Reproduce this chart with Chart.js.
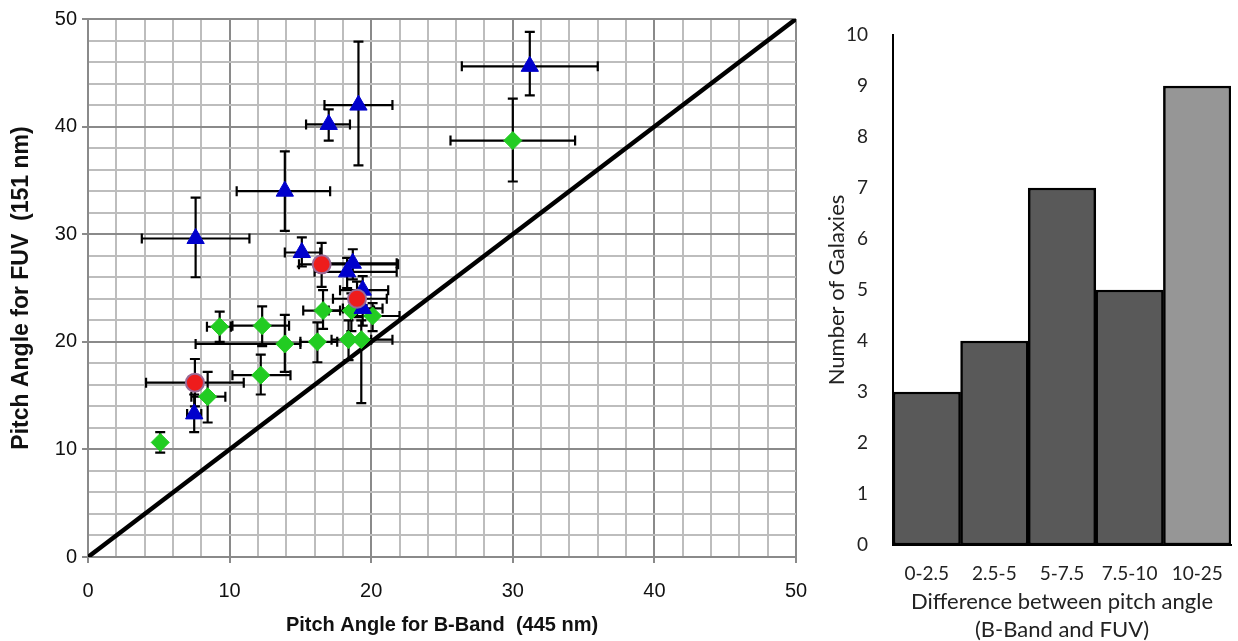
<!DOCTYPE html>
<html>
<head>
<meta charset="utf-8">
<script src="https://cdn.jsdelivr.net/npm/chart.js@4.4.1/dist/chart.umd.min.js"></script>
<style>
  html, body { margin: 0; padding: 0; background: #fff; }
  #scatterChart { position: absolute; left: 0; top: 0; }
  #barChart { position: absolute; left: 820px; top: 0; }
</style>
</head>
<body>
<canvas id="scatterChart" width="830" height="641"></canvas>
<canvas id="barChart" width="418" height="641"></canvas>
<script>
// blue triangles
var blueX   = [31.2, 19.1, 17.0, 13.9, 7.6, 15.1, 18.7, 18.3, 19.4, 19.4, 7.5];
var blueY   = [45.6, 42.0, 40.2, 34.0, 29.6, 28.3, 27.3, 26.5, 24.8, 23.1, 13.3];
var blueXLo = [26.4, 16.7, 15.4, 10.5, 3.8, 13.9, 16.5, 16.0, 17.8, 18.0, 7.0];
var blueXHi = [36.0, 21.5, 18.5, 17.1, 11.4, 16.4, 21.8, 21.8, 21.2, 20.8, 8.0];
var blueYLo = [42.9, 36.4, 38.7, 30.3, 26.0, 27.0, 25.8, 25.0, 23.4, 21.5, 11.6];
var blueYHi = [48.8, 47.9, 41.6, 37.7, 33.4, 29.7, 28.6, 27.8, 26.1, 24.6, 15.1];

// red circles
var redX   = [16.5, 19.0, 7.55];
var redY   = [27.2, 24.0, 16.2];
var redXLo = [14.9, 17.3, 4.1];
var redXHi = [21.9, 21.1, 11.0];
var redYLo = [25.1, 22.3, 14.0];
var redYHi = [29.2, 25.6, 18.4];

// green diamonds
var greenX   = [30.0, 16.6, 18.6, 20.1, 9.3, 12.3, 13.9, 16.2, 18.4, 19.3, 12.2, 8.45, 5.1];
var greenY   = [38.7, 22.9, 22.9, 22.4, 21.4, 21.5, 19.8, 20.0, 20.2, 20.2, 16.9, 14.9, 10.65];
var greenXLo = [25.6, 15.2, 17.0, 18.6, 8.4, 10.2, 7.6, 15.0, 17.2, 18.3, 10.2, 7.3, 4.9];
var greenXHi = [34.4, 17.8, 20.2, 22.0, 10.1, 14.2, 15.0, 17.6, 20.0, 21.5, 14.3, 9.7, 5.3];
var greenYLo = [34.9, 21.2, 21.0, 21.0, 20.0, 19.6, 17.2, 18.1, 18.3, 14.3, 15.1, 12.5, 9.7];
var greenYHi = [42.6, 24.8, 24.5, 23.6, 22.8, 23.3, 22.5, 21.8, 22.0, 22.0, 18.8, 17.2, 11.6];

// 1:1 line
var lineX = [0, 50];
var lineY = [0, 50];

// histogram
var binLabels = ['0-2.5', '2.5-5', '5-7.5', '7.5-10', '10-25'];
var binCounts = [3, 4, 7, 5, 9];

function points(xs, ys) {
  return xs.map(function (x, i) { return { x: x, y: ys[i] }; });
}
function errs(xl, xh, yl, yh) {
  return xl.map(function (v, i) { return { xLo: v, xHi: xh[i], yLo: yl[i], yHi: yh[i] }; });
}

var sans = "'Liberation Sans', Arial, sans-serif";

var errorBars = {
  id: 'errorBars',
  beforeDatasetsDraw: function (chart) {
    var xs = chart.scales.x, ys = chart.scales.y, ctx = chart.ctx, cap = 5;
    ctx.save();
    ctx.strokeStyle = '#000';
    ctx.lineWidth = 2.2;
    chart.data.datasets.forEach(function (ds) {
      if (!ds.errors) return;
      ds.data.forEach(function (p, i) {
        var e = ds.errors[i];
        var px = xs.getPixelForValue(p.x), py = ys.getPixelForValue(p.y);
        var x0 = xs.getPixelForValue(e.xLo), x1 = xs.getPixelForValue(e.xHi);
        var y0 = ys.getPixelForValue(e.yLo), y1 = ys.getPixelForValue(e.yHi);
        ctx.beginPath();
        ctx.moveTo(x0, py); ctx.lineTo(x1, py);
        ctx.moveTo(x0, py - cap); ctx.lineTo(x0, py + cap);
        ctx.moveTo(x1, py - cap); ctx.lineTo(x1, py + cap);
        ctx.moveTo(px, y0); ctx.lineTo(px, y1);
        ctx.moveTo(px - cap, y0); ctx.lineTo(px + cap, y0);
        ctx.moveTo(px - cap, y1); ctx.lineTo(px + cap, y1);
        ctx.stroke();
      });
    });
    ctx.restore();
  }
};

function gridColor(c) {
  return c.tick && c.tick.value % 10 === 0 ? '#8a8a8a' : '#bdbdbd';
}
function tickColor(c) {
  return c.tick && c.tick.value % 10 === 0 ? '#8a8a8a' : 'rgba(0,0,0,0)';
}

new Chart(document.getElementById('scatterChart'), {
  type: 'scatter',
  data: {
    datasets: [
      {
        label: 'red',
        data: points(redX, redY),
        errors: errs(redXLo, redXHi, redYLo, redYHi),
        pointStyle: 'circle',
        pointRadius: 9,
        pointBackgroundColor: '#ee1c1c',
        pointBorderColor: '#9a6a96',
        pointBorderWidth: 2
      },
      {
        label: 'blue',
        data: points(blueX, blueY),
        errors: errs(blueXLo, blueXHi, blueYLo, blueYHi),
        pointStyle: 'triangle',
        pointRadius: 10,
        pointBackgroundColor: '#0000cc',
        pointBorderColor: '#0000cc',
        pointBorderWidth: 1
      },
      {
        label: 'green',
        data: points(greenX, greenY),
        errors: errs(greenXLo, greenXHi, greenYLo, greenYHi),
        pointStyle: 'rectRot',
        pointRadius: 9,
        pointBackgroundColor: '#22cc22',
        pointBorderColor: '#22cc22',
        pointBorderWidth: 1
      },
      {
        type: 'line',
        label: 'line',
        data: points(lineX, lineY),
        borderColor: '#000',
        borderWidth: 4.5,
        pointRadius: 0,
        fill: false
      }
    ]
  },
  options: {
    responsive: false,
    animation: false,
    layout: { padding: { top: 19, right: 34, left: 0, bottom: 0 } },
    plugins: { legend: { display: false }, tooltip: { enabled: false } },
    scales: {
      x: {
        type: 'linear',
        min: 0, max: 50,
        afterFit: function (s) { s.height = 84; },
        ticks: {
          stepSize: 2, autoSkip: false, maxRotation: 0, padding: 16,
          color: '#111', font: { family: sans, size: 20 },
          callback: function (v) { return v % 10 === 0 ? v : ''; }
        },
        grid: { color: gridColor, lineWidth: 2, tickLength: 6, tickColor: tickColor },
        border: { color: '#8a8a8a', width: 2 },
        title: {
          display: true, text: 'Pitch Angle for B-Band  (445 nm)',
          color: '#111', font: { family: sans, size: 20, weight: 'bold' },
          padding: { top: 0, bottom: 4 }
        }
      },
      y: {
        type: 'linear',
        min: 0, max: 50,
        afterFit: function (s) { s.width = 88; },
        ticks: {
          stepSize: 2, autoSkip: false, padding: 5,
          color: '#111', font: { family: sans, size: 20 },
          callback: function (v) { return v % 10 === 0 ? v : ''; }
        },
        grid: { color: gridColor, lineWidth: 2, tickLength: 6, tickColor: tickColor },
        border: { color: '#8a8a8a', width: 2 },
        title: {
          display: true, text: 'Pitch Angle for FUV  (151 nm)',
          color: '#111', font: { family: sans, size: 23, weight: 'bold' },
          padding: { top: 8, bottom: 0 }
        }
      }
    }
  },
  plugins: [errorBars]
});

var calibri = "Lato, 'Open Sans', sans-serif";

new Chart(document.getElementById('barChart'), {
  type: 'bar',
  data: {
    labels: binLabels,
    datasets: [{
      data: binCounts,
      backgroundColor: ['#595959', '#595959', '#595959', '#595959', '#969696'],
      borderColor: '#000',
      borderWidth: 2.5,
      borderSkipped: false,
      barPercentage: 1,
      categoryPercentage: 1
    }]
  },
  options: {
    responsive: false,
    animation: false,
    layout: { padding: { top: 35, right: 7, left: 0, bottom: 0 } },
    plugins: { legend: { display: false }, tooltip: { enabled: false } },
    scales: {
      x: {
        afterFit: function (s) { s.height = 96; },
        grid: { display: false },
        border: { display: true, color: '#000', width: 2 },
        ticks: { color: '#222', padding: 9, font: { family: calibri, size: 19 } },
        title: {
          display: true,
          text: ['Difference between pitch angle', '(B-Band and FUV)'],
          color: '#222', font: { family: calibri, size: 22, lineHeight: 1.27 },
          padding: { top: 0, bottom: -3 }
        }
      },
      y: {
        min: 0, max: 10,
        afterFit: function (s) { s.width = 73; },
        grid: { display: false },
        border: { display: true, color: '#000', width: 2 },
        ticks: { stepSize: 1, color: '#222', padding: 17, font: { family: calibri, size: 19 } },
        title: {
          display: true, text: 'Number of Galaxies',
          color: '#222', font: { family: calibri, size: 22 },
          padding: { top: 4, bottom: 0 }
        }
      }
    }
  }
});
</script>
</body>
</html>
